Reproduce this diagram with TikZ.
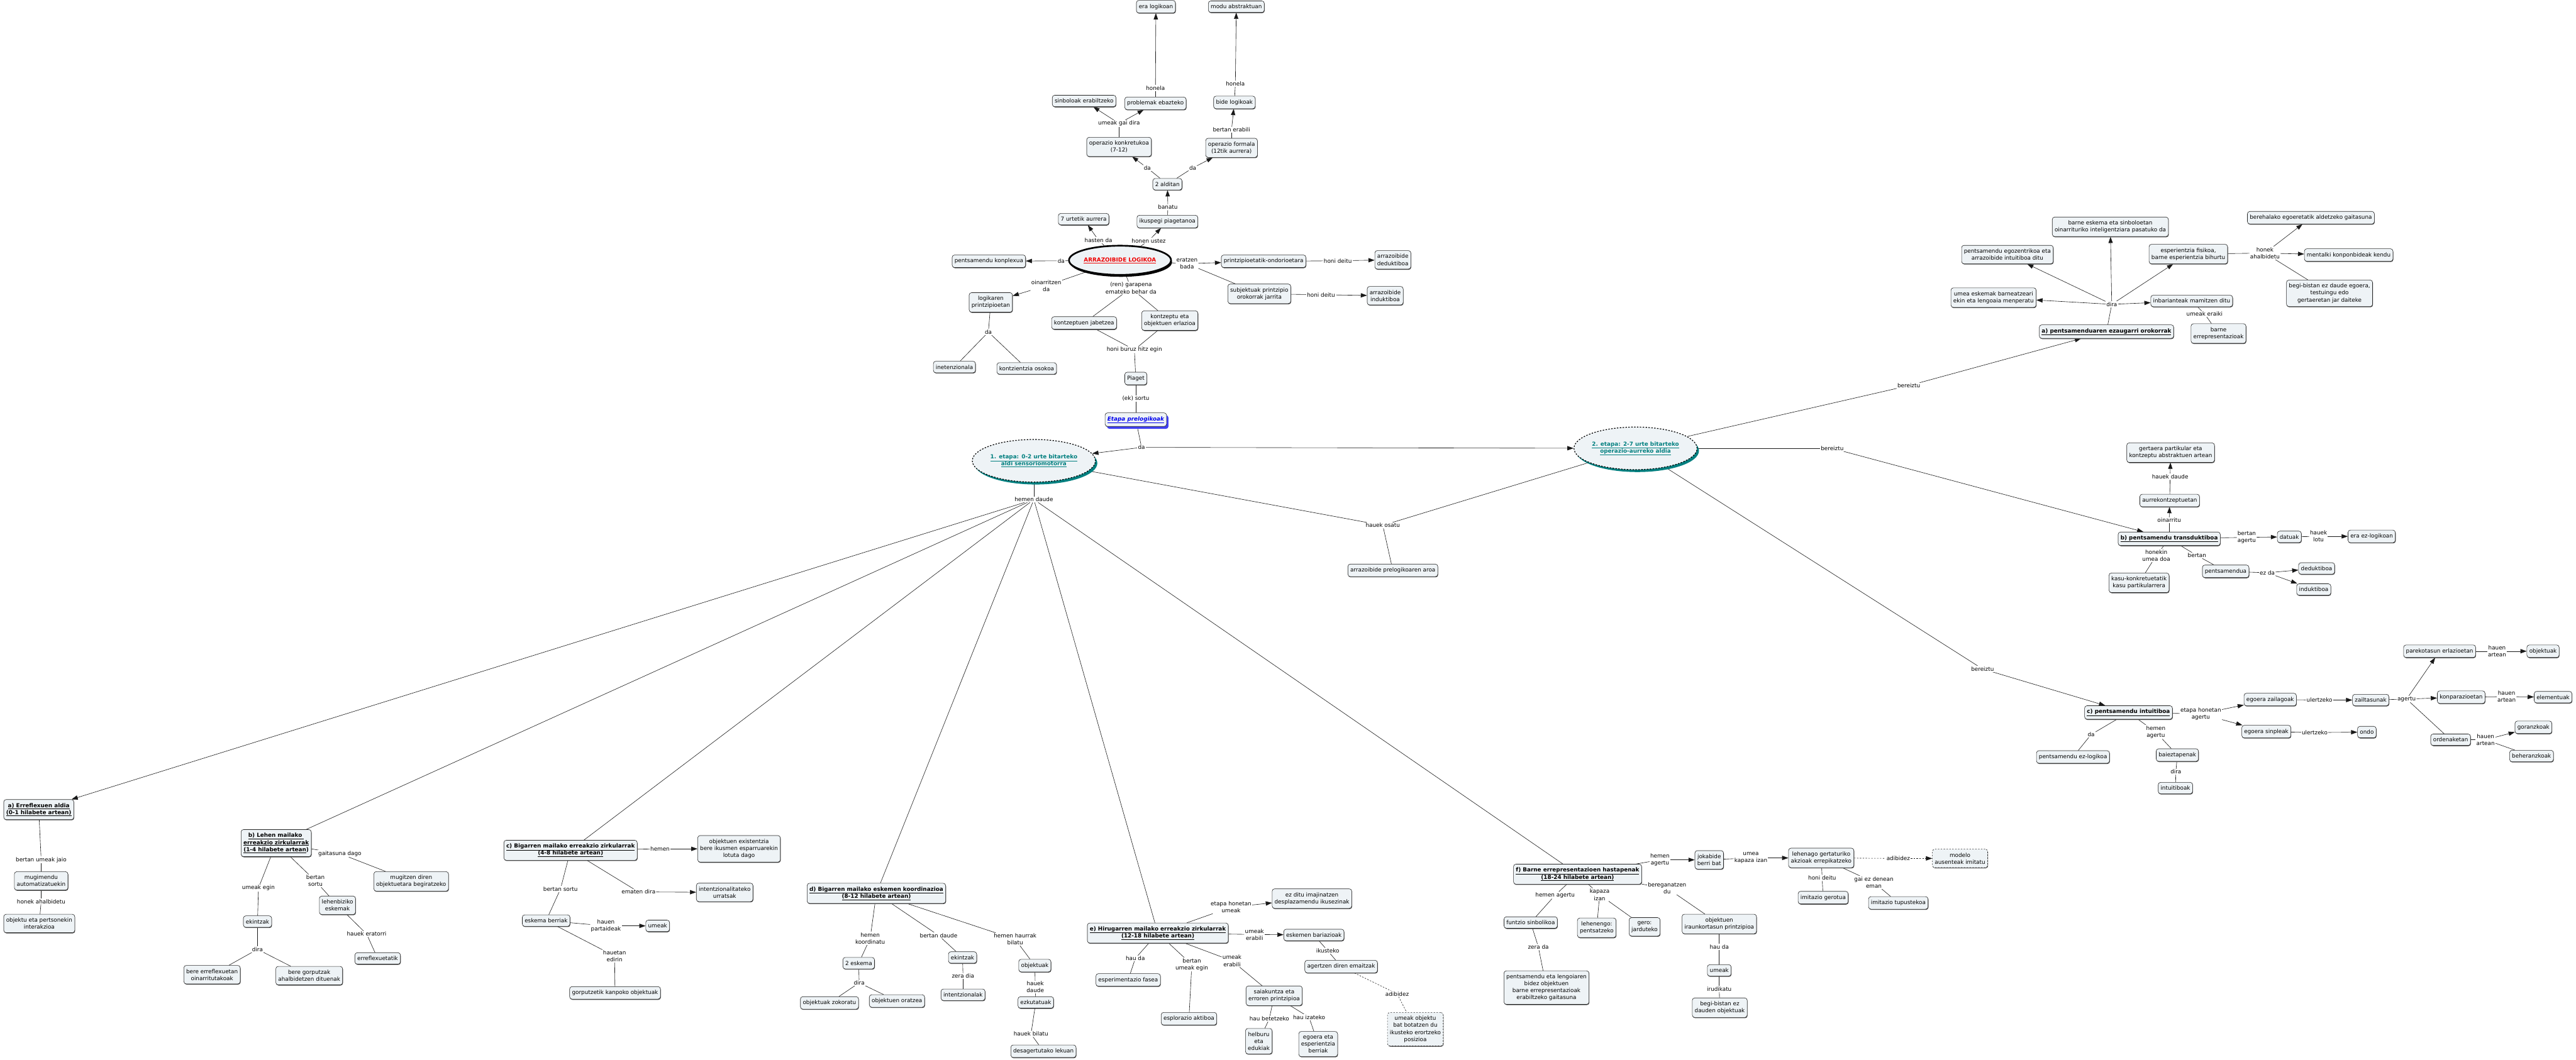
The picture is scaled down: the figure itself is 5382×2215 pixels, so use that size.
\documentclass[tikz,border=0pt]{standalone}
\usepackage{fontspec}
\setmainfont{DejaVu Sans}
\usetikzlibrary{arrows.meta,shapes.geometric,shadows}
\pgfdeclarelayer{bg}
\pgfsetlayers{bg,main}
\definecolor{boxfill}{HTML}{EEF3F6}
\definecolor{tealc}{HTML}{007F7F}
\definecolor{bluec}{HTML}{0000EE}
\definecolor{redc}{HTML}{EE0000}
\newcommand{\fsz}{\fontsize{11.6}{14.6}\selectfont}
\newcommand{\uln}[1]{\underline{#1}}
\tikzset{
 cbox/.style={draw=black!85, fill=boxfill, rounded corners=5pt, align=center, inner xsep=5pt, inner ysep=7.5pt, font=\fsz, line width=0.8pt, drop shadow={shadow xshift=0.8pt,shadow yshift=-1.4pt,fill=black!70,opacity=1}},
 tbox/.style={cbox, font=\fsz\bfseries},
 dbox/.style={cbox, dashed, drop shadow={opacity=0}},
 lbl/.style={fill=white, inner sep=1.5pt, align=center, font=\fsz},
 ln/.style={line width=0.8pt, draw=black!90},
 arr/.style={ln, -{Triangle[length=13pt,width=9pt]}},
 dln/.style={ln, dashed},
 darr/.style={arr, dashed},
 stage/.style={ellipse, draw=black, dashed, line width=1.6pt, fill=boxfill, minimum width=216pt, minimum height=89pt, inner sep=0pt, align=center, font=\fsz\bfseries, text=tealc, drop shadow={shadow xshift=4pt,shadow yshift=-5pt,fill=tealc,opacity=1}},
}
\begin{document}
\begin{tikzpicture}[x=1pt,y=-1pt]
\begin{pgfonlayer}{bg}
\fill[white] (0,0) rectangle (5382,2215);
\end{pgfonlayer}
\useasboundingbox (0,0) rectangle (5382,2215);

% ---------- top: arrazoibide logikoa ----------
\node[cbox] (eralog) at (2415,14) {era logikoan};
\node[cbox] (moduab) at (2583,14) {modu abstraktuan};
\node[lbl] (lhonela1) at (2414,184) {honela};
\node[lbl] (lhonela2) at (2581,175) {honela};
\node[cbox] (sinbol) at (2265,211) {sinboloak erabiltzeko};
\node[cbox] (problem) at (2414,216) {problemak ebazteko};
\node[cbox] (bidelog) at (2579,214) {bide logikoak};
\node[lbl] (lumeakgai) at (2338,258) {umeak gai dira};
\node[lbl] (lbertanerab) at (2573,271) {bertan erabili};
\node[cbox] (opkonk) at (2338,307) {operazio konkretukoa\\(7-12)};
\node[cbox] (opform) at (2573,309) {operazio formala\\(12tik aurrera)};
\node[lbl] (lda1) at (2397,351) {da};
\node[lbl] (lda2) at (2492,351) {da};
\node[cbox] (alditan) at (2439,385) {2 alditan};
\node[lbl] (lbanatu) at (2440,433) {banatu};
\node[cbox] (urte7) at (2264,458) {7 urtetik aurrera};
\node[cbox] (piag) at (2439,463) {ikuspegi piagetanoa};
\node[lbl] (lhasten) at (2295,502) {hasten da};
\node[lbl] (lhonen) at (2400,503) {honen ustez};
\node[cbox] (konplex) at (2066,546) {pentsamendu konplexua};
\node[lbl] (lda3) at (2217,545) {da};
\node[ellipse, draw=black, line width=3.5pt, fill=boxfill, minimum width=184pt, minimum height=61pt, inner sep=0pt, font=\fsz\bfseries, text=redc, drop shadow={shadow xshift=2pt,shadow yshift=-4pt,fill=black,opacity=1}] (arraz) at (2340,544) {\uln{ARRAZOIBIDE LOGIKOA}};
\node[lbl] (leratzen) at (2480,551) {eratzen\\bada};
\node[cbox] (printz) at (2640,546) {printzipioetatik-ondorioetara};
\node[lbl] (lhonideitu1) at (2795,545) {honi deitu};
\node[cbox] (dedukt) at (2910,543) {arrazoibide\\deduktiboa};
\node[cbox] (subjekt) at (2631,614) {subjektuak printzipio\\orokorrak jarrita};
\node[lbl] (lhonideitu2) at (2760,616) {honi deitu};
\node[cbox] (indukt) at (2894,618) {arrazoibide\\induktiboa};
\node[lbl] (loinarr) at (2186,597) {oinarritzen\\da};
\node[cbox] (logprint) at (2070,632) {logikaren\\printzipioetan};
\node[lbl] (lgarap) at (2363,602) {(ren) garapena\\emateko behar da};
\node[cbox] (kontjab) at (2265,675) {kontzeptuen jabetzea};
\node[cbox] (kontobj) at (2444,670) {kontzeptu eta\\objektuen erlazioa};
\node[lbl] (lhoniburuz) at (2370,731) {honi buruz hitz egin};
\node[lbl] (lda4) at (2065,694) {da};
\node[cbox] (inetenz) at (1994,767) {inetenzionala};
\node[cbox] (kontzos) at (2145,770) {kontzientzia osokoa};
\node[cbox] (piaget) at (2373,791) {Piaget};
\node[lbl] (leksortu) at (2373,833) {(ek) sortu};
\node[cbox, font=\fsz\bfseries\itshape, text=bluec, drop shadow={shadow xshift=4pt,shadow yshift=-5pt,fill=bluec!75,opacity=1}] (etapre) at (2373,877) {\uln{Etapa prelogikoak}};
\node[lbl] (lda5) at (2385,935) {da};
\node[stage] (etapa1) at (2160,963) {\uln{1. etapa: 0-2 urte bitarteko}\\\uln{aldi sensoriomotorra}};
\node[lbl] (lhemendaude) at (2160,1044) {hemen daude};
\node[stage] (etapa2) at (3417,937) {\uln{2. etapa: 2-7 urte bitarteko}\\\uln{operazio-aurreko aldia}};
\node[lbl] (lhauekosatu) at (2889,1098) {hauek osatu};
\node[cbox] (aroa) at (2910,1192) {arrazoibide prelogikoaren aroa};
\node[lbl] (lbereiztu1) at (3988,806) {bereiztu};
\node[lbl] (lbereiztu2) at (3828,937) {bereiztu};
\node[lbl] (lbereiztu3) at (4142,1398) {bereiztu};

% ---------- a) ezaugarri orokorrak ----------
\node[cbox] (barneesk) at (4409,474) {barne eskema eta sinboloetan\\oinarrituriko inteligentziara pasatuko da};
\node[cbox] (bereh) at (4828,455) {berehalako egoeretatik aldetzeko gaitasuna};
\node[cbox] (egozen) at (4194,532) {pentsamendu egozentrikoa eta\\arrazoibide intuitiboa ditu};
\node[cbox] (esperf) at (4572,531) {esperientzia fisikoa,\\barne esperientzia bihurtu};
\node[lbl] (lhonekahal) at (4732,529) {honek\\ahalbidetu};
\node[cbox] (mental) at (4907,533) {mentalki konponbideak kendu};
\node[cbox] (begibist) at (4867,613) {begi-bistan ez daude egoera,\\testuingu edo\\gertaeretan jar daiteke};
\node[cbox] (umeaesk) at (4165,622) {umea eskemak barneatzeari\\ekin eta lengoaia menperatu};
\node[lbl] (ldira1) at (4412,636) {dira};
\node[cbox] (inbar) at (4579,629) {inbarianteak mamitzen ditu};
\node[lbl] (lumeakeraiki) at (4606,656) {umeak eraiki};
\node[cbox] (barneerr) at (4635,697) {barne\\errepresentazioak};
\node[tbox] (apents) at (4401,693) {\uln{a) pentsamenduaren ezaugarri orokorrak}};

% ---------- b) transduktiboa ----------
\node[cbox] (gertaera) at (4535,946) {gertaera partikular eta\\kontzeptu abstraktuen artean};
\node[lbl] (lhauekdaude1) at (4534,996) {hauek daude};
\node[cbox] (aurrek) at (4533,1046) {aurrekontzeptuetan};
\node[lbl] (loinarritu) at (4532,1087) {oinarritu};
\node[tbox] (bpents) at (4532,1126) {\uln{b) pentsamendu transduktiboa}};
\node[lbl] (lbertanagertu) at (4694,1123) {bertan\\agertu};
\node[cbox] (datuak) at (4783,1122) {datuak};
\node[lbl] (lhaueklotu) at (4844,1121) {hauek\\lotu};
\node[cbox] (eraezlog) at (4955,1121) {era ez-logikoan};
\node[lbl] (lhonekin) at (4505,1161) {honekin\\umea doa};
\node[lbl] (lbertan) at (4590,1161) {bertan};
\node[cbox] (kasukonk) at (4469,1218) {kasu-konkretuetatik\\kasu partikularrera};
\node[cbox] (pentsamendua) at (4650,1194) {pentsamendua};
\node[lbl] (lezda) at (4737,1197) {ez da};
\node[cbox] (dedukt2) at (4840,1188) {deduktiboa};
\node[cbox] (indukt2) at (4834,1232) {induktiboa};

% ---------- c) intuitiboa ----------
\node[cbox] (pareko) at (5097,1361) {parekotasun erlazioetan};
\node[lbl] (lhauenart1) at (5217,1361) {hauen\\artean};
\node[cbox] (objektuak1) at (5313,1361) {objektuak};
\node[cbox] (egzail) at (4743,1462) {egoera zailagoak};
\node[lbl] (lulertzeko1) at (4846,1463) {ulertzeko};
\node[cbox] (zailt) at (4953,1463) {zailtasunak};
\node[lbl] (lagertu) at (5028,1461) {agertu};
\node[cbox] (konpar) at (5142,1457) {konparazioetan};
\node[lbl] (lhauenart2) at (5237,1456) {hauen\\artean};
\node[cbox] (elementuak) at (5334,1457) {elementuak};
\node[tbox] (cpents) at (4447,1489) {\uln{c) pentsamendu intuitiboa}};
\node[lbl] (letapahon) at (4598,1492) {etapa honetan\\agertu};
\node[cbox] (egsinp) at (4735,1529) {egoera sinpleak};
\node[lbl] (lulertzeko2) at (4836,1531) {ulertzeko};
\node[cbox] (ondo) at (4945,1530) {ondo};
\node[lbl] (lda6) at (4369,1535) {da};
\node[lbl] (lhemenagertu1) at (4504,1530) {hemen\\agertu};
\node[cbox] (ezlog) at (4331,1582) {pentsamendu ez-logikoa};
\node[cbox] (baiez) at (4549,1578) {baieztapenak};
\node[lbl] (ldira2) at (4546,1613) {dira};
\node[cbox] (intuit) at (4545,1647) {intuitiboak};
\node[cbox] (ordena) at (5120,1546) {ordenaketan};
\node[lbl] (lhauenart3) at (5193,1546) {hauen\\artean};
\node[cbox] (goranz) at (5293,1520) {goranzkoak};
\node[cbox] (beheranz) at (5289,1580) {beheranzkoak};
\node[dbox] (modelo) at (4095,1794) {modelo\\ausenteak imitatu};

% ---------- sensoriomotor substages ----------
\node[tbox] (aerr) at (81,1692) {\uln{a) Erreflexuen aldia}\\\uln{(0-1 hilabete artean)}};
\node[lbl] (lbertanjaio) at (86,1797) {bertan umeak jaio};
\node[cbox] (mugim) at (86,1841) {mugimendu\\automatizatuekin};
\node[lbl] (lhonekahal2) at (86,1884) {honek ahalbidetu};
\node[cbox] (objpert) at (82,1930) {objektu eta pertsonekin\\interakzioa};

\node[tbox] (blehen) at (577,1762) {\uln{b) Lehen mailako }\\\uln{erreakzio zirkularrak}\\\uln{(1-4 hilabete artean})};
\node[lbl] (lgaitasuna) at (710,1784) {gaitasuna dago};
\node[cbox] (mugitzen) at (859,1842) {mugitzen diren\\objektuetara begiratzeko};
\node[lbl] (lumeakegin) at (540,1856) {umeak egin};
\node[lbl] (lbertansortu1) at (659,1841) {bertan\\sortu};
\node[cbox] (lehenb) at (705,1892) {lehenbiziko\\eskemak};
\node[cbox] (ekintzak1) at (538,1926) {ekintzak};
\node[lbl] (lhauekerat) at (766,1952) {hauek eratorri};
\node[cbox] (erreflex) at (789,2003) {erreflexuetatik};
\node[lbl] (ldira3) at (538,1984) {dira};
\node[cbox] (bereerr) at (443,2037) {bere erreflexuetan\\oinarritutakoak};
\node[cbox] (beregorp) at (646,2039) {bere gorputzak\\ahalbidetzen dituenak};

\node[tbox] (cbig) at (1192,1777) {\uln{c) Bigarren mailako erreakzio zirkularrak}\\\uln{(4-8 hilabete artean)}};
\node[lbl] (lbertansortu2) at (1171,1858) {bertan sortu};
\node[lbl] (lematen) at (1334,1864) {ematen dira};
\node[cbox] (eskberri) at (1141,1924) {eskema berriak};
\node[lbl] (lhauenpart) at (1266,1935) {hauen\\partaideak};
\node[lbl] (lhauetan) at (1284,1998) {hauetan\\edirin};
\node[cbox] (gorputz) at (1285,2075) {gorputzetik kanpoko objektuak};
\node[lbl] (lhemen) at (1379,1774) {hemen};
\node[cbox] (objexist) at (1544,1774) {objektuen existentzia\\bere ikusmen esparruarekin\\lotuta dago};
\node[cbox] (intentz) at (1514,1865) {intentzionalitateko\\urratsak};
\node[cbox] (umeak1) at (1374,1935) {umeak};

\node[tbox] (dbig) at (1831,1867) {\uln{d) Bigarren mailako eskemen koordinazioa}\\\uln{(8-12 hilabete artean)}};
\node[lbl] (lhemenkoord) at (1818,1961) {hemen\\koordinatu};
\node[lbl] (lbertandaude) at (1961,1955) {bertan daude};
\node[lbl] (lhemenhaur) at (2121,1963) {hemen haurrak\\bilatu};
\node[cbox] (eskema2) at (1794,2013) {2 eskema};
\node[cbox] (ekintzak2) at (2011,2001) {ekintzak};
\node[cbox] (objektuak2) at (2162,2018) {objektuak};
\node[lbl] (ldira4) at (1795,2054) {dira};
\node[lbl] (lzera) at (2012,2040) {zera dia};
\node[lbl] (lhauekdaude2) at (2163,2063) {hauek\\daude};
\node[cbox] (objzok) at (1733,2096) {objektuak zokoratu};
\node[cbox] (objorat) at (1874,2092) {objektuen oratzea};
\node[cbox] (intentzal) at (2012,2079) {intentzionalak};
\node[cbox] (ezkut) at (2164,2095) {ezkutatuak};
\node[lbl] (lhauekbilatu) at (2154,2161) {hauek bilatu};
\node[cbox] (desager) at (2180,2197) {desagertutako lekuan};

\node[tbox] (ehiru) at (2419,1950) {\uln{e) Hirugarren mailako erreakzio zirkularrak}\\\uln{(12-18 hilabete artean)}};
\node[lbl] (letapahon2) at (2572,1896) {etapa honetan\\umeak};
\node[cbox] (ezditu) at (2741,1878) {ez ditu imajinatzen\\desplazamendu ikusezinak};
\node[lbl] (lumeakerab1) at (2621,1953) {umeak\\erabili};
\node[cbox] (eskbar) at (2745,1954) {eskemen bariazioak};
\node[lbl] (lhauda1) at (2372,2003) {hau da};
\node[lbl] (lbertanumeak) at (2490,2016) {bertan\\umeak egin};
\node[lbl] (lumeakerab2) at (2574,2008) {umeak\\erabili};
\node[cbox] (esperim) at (2357,2048) {esperimentazio fasea};
\node[cbox] (esplor) at (2484,2129) {esplorazio aktiboa};
\node[cbox] (saiak) at (2662,2081) {saiakuntza eta\\erroren printzipioa};
\node[lbl] (lhaubete) at (2652,2129) {hau betetzeko};
\node[cbox] (helburu) at (2630,2176) {helburu\\eta\\edukiak};
\node[lbl] (lhauiza) at (2735,2126) {hau izateko};
\node[cbox] (egoberri) at (2754,2182) {egoera eta\\esperientzia\\berriak};
\node[lbl] (likusteko) at (2774,1987) {ikusteko};
\node[cbox] (emaitzak) at (2802,2020) {agertzen diren emaitzak};
\node[lbl] (ladibidez1) at (2919,2077) {adibidez};
\node[dbox] (botatzen) at (2957,2151) {umeak objektu\\bat botatzen du\\ikusteko erortzeko\\posizioa};

\node[tbox] (fbarne) at (3296,1827) {\uln{f) Barne errepresentazioen hastapenak}\\\uln{(18-24 hilabete artean)}};
\node[lbl] (lhemenagertu2) at (3468,1797) {hemen\\agertu};
\node[cbox] (jokab) at (3571,1797) {jokabide\\berri bat};
\node[lbl] (lumeakap) at (3658,1793) {umea\\kapaza izan};
\node[cbox] (lehenago) at (3805,1793) {lehenago gertaturiko\\akzioak errepikatzeko};
\node[lbl] (ladibidez2) at (3966,1794) {adibidez};
\node[lbl] (lhonideitu3) at (3807,1835) {honi deitu};
\node[lbl] (lgaiez) at (3915,1844) {gai ez denean\\eman};
\node[cbox] (imitger) at (3809,1876) {imitazio gerotua};
\node[cbox] (imittup) at (3966,1887) {imitazio tupustekoa};
\node[lbl] (lhemenagertu3) at (3249,1871) {hemen agertu};
\node[lbl] (lkapaza) at (3342,1870) {kapaza\\izan};
\node[lbl] (lberegan) at (3483,1856) {bereganatzen\\du};
\node[cbox] (funtzio) at (3198,1928) {funtzio sinbolikoa};
\node[cbox] (lehenengo) at (3336,1939) {lehenengo:\\pentsatzeko};
\node[cbox] (gero) at (3436,1937) {gero:\\jarduteko};
\node[cbox] (objiraun) at (3592,1931) {objektuen\\iraunkortasun printzipioa};
\node[lbl] (lzerada) at (3214,1979) {zera da};
\node[lbl] (lhauda2) at (3592,1979) {hau da};
\node[cbox] (pentsleng) at (3231,2064) {pentsamendu eta lengoiaren\\bidez objektuen\\barne errepresentazioak\\erabiltzeko gaitasuna};
\node[cbox] (umeak2) at (3592,2028) {umeak};
\node[lbl] (lirudik) at (3592,2067) {irudikatu};
\node[cbox] (begiobj) at (3593,2106) {begi-bistan ez\\dauden objektuak};

% ================= connectors (behind the nodes) =================
\begin{pgfonlayer}{bg}
\draw[ln] (problem) -- (lhonela1); \draw[arr] (lhonela1) -- (eralog);
\draw[ln] (bidelog) -- (lhonela2); \draw[arr] (lhonela2) -- (moduab);
\draw[ln] (opkonk) -- (lumeakgai); \draw[arr] (lumeakgai) -- (sinbol); \draw[arr] (lumeakgai) -- (problem);
\draw[ln] (opform) -- (lbertanerab); \draw[arr] (lbertanerab) -- (bidelog);
\draw[ln] (alditan) -- (lda1); \draw[arr] (lda1) -- (opkonk);
\draw[ln] (alditan) -- (lda2); \draw[arr] (lda2) -- (opform);
\draw[ln] (piag) -- (lbanatu); \draw[arr] (lbanatu) -- (alditan);
\draw[ln] (arraz) -- (lhasten); \draw[arr] (lhasten) -- (urte7);
\draw[ln] (arraz) -- (lhonen); \draw[arr] (lhonen) -- (piag);
\draw[ln] (arraz) -- (lda3); \draw[arr] (lda3) -- (konplex);
\draw[ln] (arraz) -- (leratzen); \draw[arr] (leratzen) -- (printz); \draw[ln] (leratzen) -- (subjekt);
\draw[ln] (printz) -- (lhonideitu1); \draw[arr] (lhonideitu1) -- (dedukt);
\draw[ln] (subjekt) -- (lhonideitu2); \draw[arr] (lhonideitu2) -- (indukt);
\draw[ln] (arraz) -- (loinarr); \draw[arr] (loinarr) -- (logprint);
\draw[ln] (arraz) -- (lgarap); \draw[ln] (lgarap) -- (kontjab); \draw[ln] (lgarap) -- (kontobj);
\draw[ln] (kontjab) -- (lhoniburuz); \draw[ln] (kontobj) -- (lhoniburuz); \draw[ln] (lhoniburuz) -- (piaget);
\draw[ln] (logprint) -- (lda4); \draw[ln] (lda4) -- (inetenz); \draw[ln] (lda4) -- (kontzos);
\draw[ln] (piaget) -- (leksortu); \draw[ln] (leksortu) -- (etapre);
\draw[ln] (etapre) -- (lda5); \draw[arr] (lda5) -- (etapa1); \draw[arr] (lda5) -- (etapa2);
\draw[ln] (etapa1) -- (lhauekosatu); \draw[ln] (etapa2) -- (lhauekosatu); \draw[ln] (lhauekosatu) -- (aroa);
\draw[ln] (etapa2) -- (lbereiztu1); \draw[arr] (lbereiztu1) -- (apents);
\draw[ln] (etapa2) -- (lbereiztu2); \draw[arr] (lbereiztu2) -- (bpents);
\draw[ln] (etapa2) -- (lbereiztu3); \draw[arr] (lbereiztu3) -- (cpents);
\draw[ln] (etapa1) -- (lhemendaude);
\draw[arr] (lhemendaude) -- (aerr);
\draw[ln] (lhemendaude) -- (blehen);
\draw[ln] (lhemendaude) -- (cbig);
\draw[ln] (lhemendaude) -- (dbig);
\draw[ln] (lhemendaude) -- (ehiru);
\draw[ln] (lhemendaude) -- (fbarne);
% a)
\draw[ln] (apents) -- (ldira1);
\draw[arr] (ldira1) -- (egozen); \draw[arr] (ldira1) -- (barneesk); \draw[arr] (ldira1) -- (esperf);
\draw[arr] (ldira1) -- (umeaesk); \draw[arr] (ldira1) -- (inbar);
\draw[ln] (esperf) -- (lhonekahal); \draw[arr] (lhonekahal) -- (bereh); \draw[arr] (lhonekahal) -- (mental); \draw[ln] (lhonekahal) -- (begibist);
\draw[ln] (inbar) -- (lumeakeraiki); \draw[ln] (lumeakeraiki) -- (barneerr);
% b)
\draw[ln] (bpents) -- (loinarritu); \draw[arr] (loinarritu) -- (aurrek);
\draw[ln] (aurrek) -- (lhauekdaude1); \draw[arr] (lhauekdaude1) -- (gertaera);
\draw[ln] (bpents) -- (lbertanagertu); \draw[arr] (lbertanagertu) -- (datuak);
\draw[ln] (datuak) -- (lhaueklotu); \draw[arr] (lhaueklotu) -- (eraezlog);
\draw[ln] (bpents) -- (lhonekin); \draw[ln] (lhonekin) -- (kasukonk);
\draw[ln] (bpents) -- (lbertan); \draw[ln] (lbertan) -- (pentsamendua);
\draw[ln] (pentsamendua) -- (lezda); \draw[arr] (lezda) -- (dedukt2); \draw[arr] (lezda) -- (indukt2);
% c)
\draw[ln] (cpents) -- (letapahon); \draw[arr] (letapahon) -- (egzail); \draw[arr] (letapahon) -- (egsinp);
\draw[ln] (egzail) -- (lulertzeko1); \draw[arr] (lulertzeko1) -- (zailt);
\draw[ln] (zailt) -- (lagertu); \draw[arr] (lagertu) -- (pareko); \draw[arr] (lagertu) -- (konpar); \draw[ln] (lagertu) -- (ordena);
\draw[ln] (pareko) -- (lhauenart1); \draw[arr] (lhauenart1) -- (objektuak1);
\draw[ln] (konpar) -- (lhauenart2); \draw[arr] (lhauenart2) -- (elementuak);
\draw[ln] (ordena) -- (lhauenart3); \draw[arr] (lhauenart3) -- (goranz); \draw[ln] (lhauenart3) -- (beheranz);
\draw[ln] (egsinp) -- (lulertzeko2); \draw[arr] (lulertzeko2) -- (ondo);
\draw[ln] (cpents) -- (lda6); \draw[ln] (lda6) -- (ezlog);
\draw[ln] (cpents) -- (lhemenagertu1); \draw[ln] (lhemenagertu1) -- (baiez);
\draw[ln] (baiez) -- (ldira2); \draw[ln] (ldira2) -- (intuit);
% sensoriomotor a)
\draw[ln] (aerr) -- (lbertanjaio); \draw[ln] (lbertanjaio) -- (mugim);
\draw[ln] (mugim) -- (lhonekahal2); \draw[ln] (lhonekahal2) -- (objpert);
% b)
\draw[ln] (blehen) -- (lgaitasuna); \draw[ln] (lgaitasuna) -- (mugitzen);
\draw[ln] (blehen) -- (lumeakegin); \draw[ln] (lumeakegin) -- (ekintzak1);
\draw[ln] (ekintzak1) -- (ldira3); \draw[ln] (ldira3) -- (bereerr); \draw[ln] (ldira3) -- (beregorp);
\draw[ln] (blehen) -- (lbertansortu1); \draw[ln] (lbertansortu1) -- (lehenb);
\draw[ln] (lehenb) -- (lhauekerat); \draw[ln] (lhauekerat) -- (erreflex);
% c)
\draw[ln] (cbig) -- (lhemen); \draw[arr] (lhemen) -- (objexist);
\draw[ln] (cbig) -- (lematen); \draw[arr] (lematen) -- (intentz);
\draw[ln] (cbig) -- (lbertansortu2); \draw[ln] (lbertansortu2) -- (eskberri);
\draw[ln] (eskberri) -- (lhauenpart); \draw[arr] (lhauenpart) -- (umeak1);
\draw[ln] (eskberri) -- (lhauetan); \draw[ln] (lhauetan) -- (gorputz);
% d)
\draw[ln] (dbig) -- (lhemenkoord); \draw[ln] (lhemenkoord) -- (eskema2);
\draw[ln] (eskema2) -- (ldira4); \draw[ln] (ldira4) -- (objzok); \draw[ln] (ldira4) -- (objorat);
\draw[ln] (dbig) -- (lbertandaude); \draw[ln] (lbertandaude) -- (ekintzak2);
\draw[ln] (ekintzak2) -- (lzera); \draw[ln] (lzera) -- (intentzal);
\draw[ln] (dbig) -- (lhemenhaur); \draw[ln] (lhemenhaur) -- (objektuak2);
\draw[ln] (objektuak2) -- (lhauekdaude2); \draw[ln] (lhauekdaude2) -- (ezkut);
\draw[ln] (ezkut) -- (lhauekbilatu); \draw[ln] (lhauekbilatu) -- (desager);
% e)
\draw[ln] (ehiru) -- (letapahon2); \draw[arr] (letapahon2) -- (ezditu);
\draw[ln] (ehiru) -- (lumeakerab1); \draw[arr] (lumeakerab1) -- (eskbar);
\draw[ln] (ehiru) -- (lhauda1); \draw[ln] (lhauda1) -- (esperim);
\draw[ln] (ehiru) -- (lbertanumeak); \draw[ln] (lbertanumeak) -- (esplor);
\draw[ln] (ehiru) -- (lumeakerab2); \draw[ln] (lumeakerab2) -- (saiak);
\draw[ln] (saiak) -- (lhaubete); \draw[ln] (lhaubete) -- (helburu);
\draw[ln] (saiak) -- (lhauiza); \draw[ln] (lhauiza) -- (egoberri);
\draw[ln] (eskbar) -- (likusteko); \draw[ln] (likusteko) -- (emaitzak);
\draw[dln] (emaitzak) -- (ladibidez1); \draw[dln] (ladibidez1) -- (botatzen);
% f)
\draw[ln] (fbarne) -- (lhemenagertu2); \draw[arr] (lhemenagertu2) -- (jokab);
\draw[ln] (jokab) -- (lumeakap); \draw[arr] (lumeakap) -- (lehenago);
\draw[dln] (lehenago) -- (ladibidez2); \draw[darr] (ladibidez2) -- (modelo);
\draw[ln] (lehenago) -- (lhonideitu3); \draw[ln] (lhonideitu3) -- (imitger);
\draw[ln] (lehenago) -- (lgaiez); \draw[ln] (lgaiez) -- (imittup);
\draw[ln] (fbarne) -- (lhemenagertu3); \draw[ln] (lhemenagertu3) -- (funtzio);
\draw[ln] (funtzio) -- (lzerada); \draw[ln] (lzerada) -- (pentsleng);
\draw[ln] (fbarne) -- (lkapaza); \draw[ln] (lkapaza) -- (lehenengo); \draw[ln] (lkapaza) -- (gero);
\draw[ln] (fbarne) -- (lberegan); \draw[ln] (lberegan) -- (objiraun);
\draw[ln] (objiraun) -- (lhauda2); \draw[ln] (lhauda2) -- (umeak2);
\draw[ln] (umeak2) -- (lirudik); \draw[ln] (lirudik) -- (begiobj);
\end{pgfonlayer}
\end{tikzpicture}
\end{document}
